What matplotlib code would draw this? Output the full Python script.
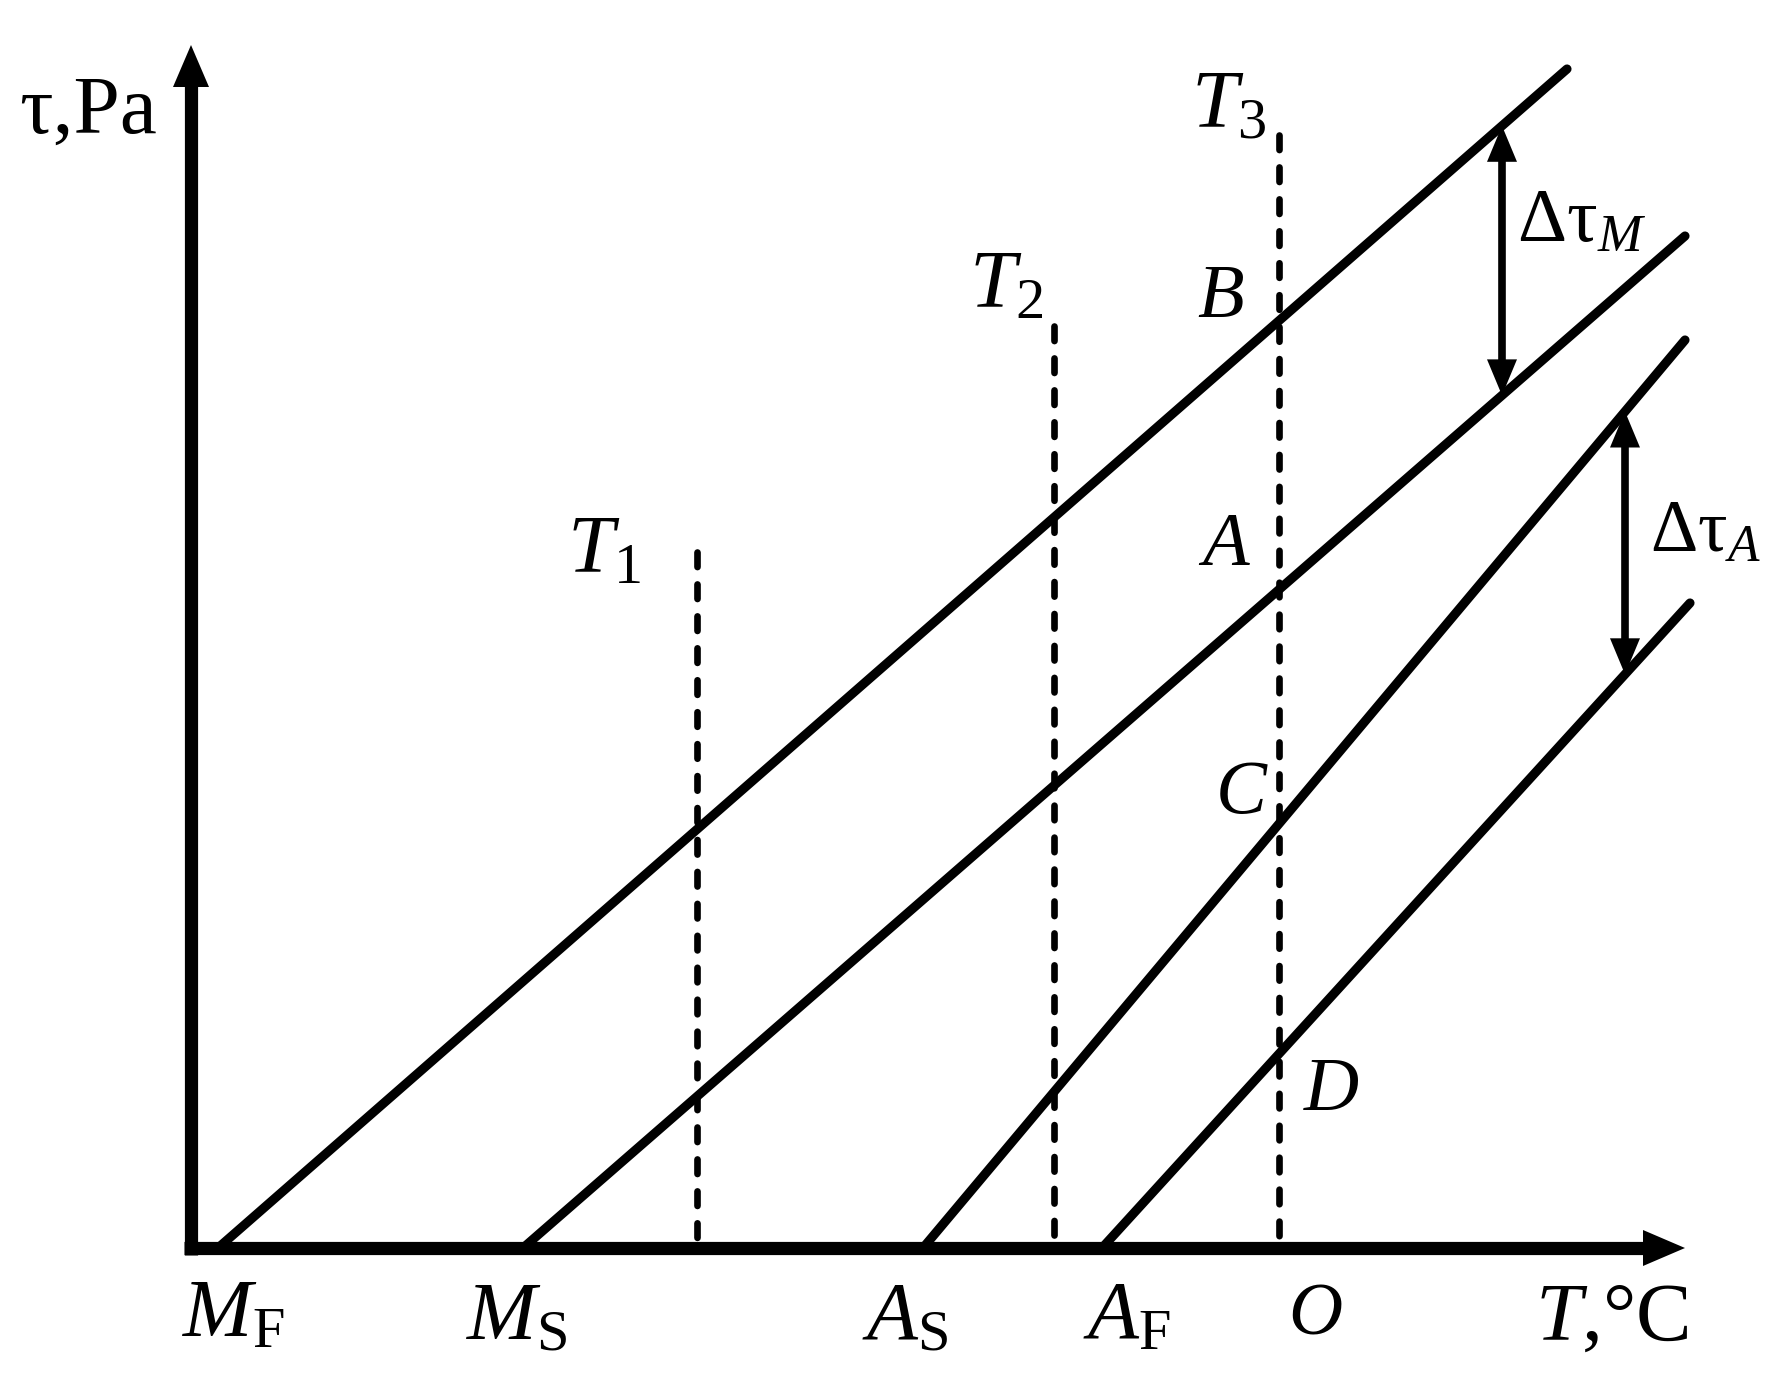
import numpy as np
import matplotlib
matplotlib.use("Agg")
import matplotlib.pyplot as plt

plt.rcParams['font.family'] = ['Liberation Serif', 'DejaVu Serif']
plt.rcParams['mathtext.fontset'] = 'custom'
plt.rcParams['mathtext.rm'] = 'Liberation Serif'
plt.rcParams['mathtext.it'] = 'Liberation Serif:italic'
plt.rcParams['lines.scale_dashes'] = False

# diagram units: origin at the corner of the axes, y up
# transformation lines (start on the T axis, end top right)
line_x0 = [27, 332, 732, 911]
line_x1 = [1376, 1494, 1494, 1499]
line_y1 = [1179, 1012, 908, 645]

# isotherms T1, T2, T3
iso_x = [506, 863, 1088]
iso_top = [696, 922, 1113]

# stress gaps
gap_M_x = 1311   # between line 0 and 1
gap_A_x = 1434   # between line 2 and 3

x_axis_end = 1494
y_axis_end = 1203

fig = plt.figure(figsize=(17.91, 13.76), dpi=100)
ax = fig.add_axes([0, 0, 1, 1])
ax.set_xlim(-191, 1600)
ax.set_ylim(-128, 1248)
ax.axis('off')

# axes with arrow heads
hl, hw = 42, 36
ax.plot([0, 0], [-7, y_axis_end - hl + 2], color='k', lw=9.5, solid_capstyle='butt')
ax.plot([-7, x_axis_end - hl + 2], [0, 0], color='k', lw=9.5, solid_capstyle='butt')
ax.fill([-hw / 2, hw / 2, 0], [y_axis_end - hl, y_axis_end - hl, y_axis_end], color='k', lw=0)
ax.fill([x_axis_end - hl, x_axis_end - hl, x_axis_end], [-hw / 2, hw / 2, 0], color='k', lw=0)

# solid lines
for x0, x1, y1 in zip(line_x0, line_x1, line_y1):
    ax.plot([x0, x1], [0, y1], color='k', lw=6.6, solid_capstyle='round')

# dashed isotherms
for x, top in zip(iso_x, iso_top):
    ax.plot([x, x], [top, 0], color='k', lw=4.8, dashes=(10.5, 12.5),
            dash_capstyle='round')


def line_y(i, x):
    return np.interp(x, [line_x0[i], line_x1[i]], [0, line_y1[i]])


def double_arrow(x, ya, yb):
    ah, aw = 36, 30
    ax.plot([x, x], [ya - ah + 2, yb + ah - 2], color='k', lw=5.5, solid_capstyle='butt')
    ax.fill([x - aw / 2, x + aw / 2, x], [ya - ah, ya - ah, ya], color='k', lw=0)
    ax.fill([x - aw / 2, x + aw / 2, x], [yb + ah, yb + ah, yb], color='k', lw=0)


double_arrow(gap_M_x, line_y(0, gap_M_x), line_y(1, gap_M_x))
double_arrow(gap_A_x, line_y(2, gap_A_x), line_y(3, gap_A_x))

# labels
labels = [
    ('τ,Pa', -172, 1115, 60),
    (r'$T_1$', 376, 676, 60),
    (r'$T_2$', 778, 940, 60),
    (r'$T_3$', 1000, 1121, 60),
    (r'$B$', 1006, 931, 55),
    (r'$A$', 1007, 683, 55),
    (r'$C$', 1024, 435, 55),
    (r'$D$', 1112, 138, 55),
    (r'$\mathrm{\Delta\tau}_M$', 1326, 1006, 55),
    (r'$\mathrm{\Delta\tau}_A$', 1459, 696, 53),
    (r'$M_\mathrm{F}$', -9, -89, 60),
    (r'$M_\mathrm{S}$', 275, -91, 60),
    (r'$A_\mathrm{S}$', 671, -91, 60),
    (r'$A_\mathrm{F}$', 892, -91, 60),
    (r'$O$', 1097, -86, 54),
    (r'$T$,°C', 1344, -92, 60),
]
for s, x, y, fs in labels:
    ax.text(x, y, s, fontsize=fs, ha='left', va='baseline', color='k')

fig.savefig('out.png', dpi=100, facecolor='white')
